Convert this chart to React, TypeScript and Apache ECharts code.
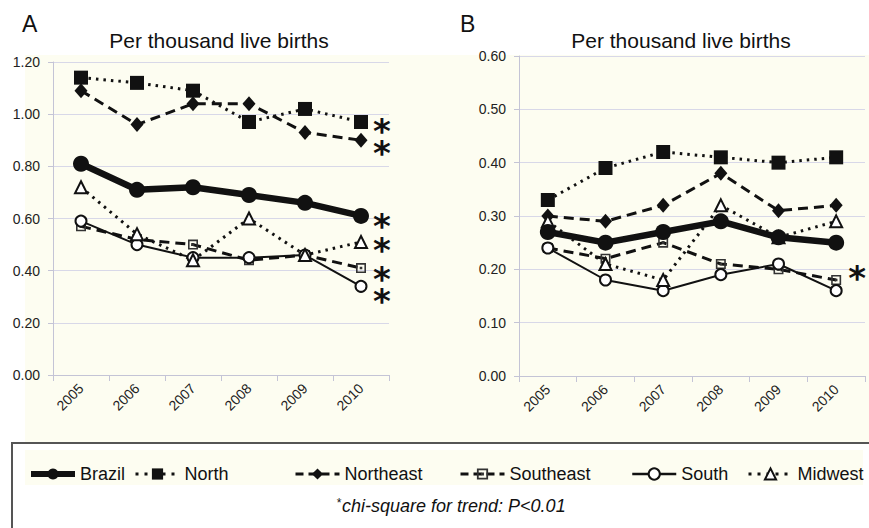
import React, { useEffect, useRef } from "react";
import * as echarts from "echarts";

const years = ["2005", "2006", "2007", "2008", "2009", "2010"];
const regions = ["Brazil", "North", "Northeast", "Southeast", "South", "Midwest"];

// Panel A values (per thousand live births)
const brazilA = [0.81, 0.71, 0.72, 0.69, 0.66, 0.61];
const northA = [1.14, 1.12, 1.09, 0.97, 1.02, 0.97];
const northeastA = [1.09, 0.96, 1.04, 1.04, 0.93, 0.9];
const southeastA = [0.57, 0.52, 0.5, 0.44, 0.46, 0.41];
const southA = [0.59, 0.5, 0.45, 0.45, 0.46, 0.34];
const midwestA = [0.72, 0.54, 0.44, 0.6, 0.46, 0.51];

// Panel B values (per thousand live births)
const brazilB = [0.27, 0.25, 0.27, 0.29, 0.26, 0.25];
const northB = [0.33, 0.39, 0.42, 0.41, 0.4, 0.41];
const northeastB = [0.3, 0.29, 0.32, 0.38, 0.31, 0.32];
const southeastB = [0.24, 0.22, 0.25, 0.21, 0.2, 0.18];
const southB = [0.24, 0.18, 0.16, 0.19, 0.21, 0.16];
const midwestB = [0.29, 0.21, 0.18, 0.32, 0.26, 0.29];

// significant trend (asterisk) per region, in `regions` order
const trendA = [true, true, true, true, true, true];
const trendB = [false, false, false, true, false, false];

const yMaxA = 1.2;
const yStepA = 0.2;
const yMaxB = 0.6;
const yStepB = 0.1;

const titleText = "Per thousand live births";
const footnote = "chi-square for trend: P<0.01";

const INK = "#111";
const FONT = "'Liberation Sans', Arial, Helvetica, sans-serif";

const seSymbol =
  "path://M0,0H10V10H0Z M1.6,1.6V8.4H8.4V1.6Z M3.7,3.7H6.3V6.3H3.7Z";

const styles: Record<string, any> = {
  Brazil: {
    symbol: "circle",
    symbolSize: 16,
    lineStyle: { width: 6.5, type: "solid", color: INK },
    legendLine: { width: 6, type: "solid", color: INK },
    itemStyle: { color: INK },
    z: 5,
    starDy: [2, 0],
  },
  North: {
    symbol: "rect",
    symbolSize: 14,
    lineStyle: { width: 3, type: [2.5, 5], color: INK },
    legendLine: { width: 3, type: [3, 6], color: INK },
    itemStyle: { color: INK },
    z: 3,
    starDy: [1, 0],
  },
  Northeast: {
    symbol: "diamond",
    symbolSize: [13, 15],
    lineStyle: { width: 3, type: [10, 6], color: INK },
    legendLine: { width: 3, type: [8, 5], color: INK },
    itemStyle: { color: INK },
    z: 3,
    starDy: [5, 0],
  },
  Southeast: {
    symbol: seSymbol,
    symbolSize: 10,
    lineStyle: { width: 3, type: [10, 6], color: INK },
    legendLine: { width: 3, type: [8, 5], color: INK },
    itemStyle: { color: "#333" },
    z: 3,
    starDy: [3, -10],
  },
  South: {
    symbol: "emptyCircle",
    symbolSize: 11,
    lineStyle: { width: 2, type: "solid", color: INK },
    legendLine: { width: 2.5, type: "solid", color: INK },
    itemStyle: { color: INK, borderWidth: 1.3 },
    z: 3,
    starDy: [7, 0],
  },
  Midwest: {
    symbol: "emptyTriangle",
    symbolSize: 12,
    lineStyle: { width: 3, type: [2.5, 5], color: INK },
    legendLine: { width: 3, type: [3, 6], color: INK },
    itemStyle: { color: INK, borderWidth: 1.3 },
    z: 3,
    starDy: [0, 0],
  },
};

const valuesA = [brazilA, northA, northeastA, southeastA, southA, midwestA];
const valuesB = [brazilB, northB, northeastB, southeastB, southB, midwestB];

function buildSeries(panel: number, values: number[][], trend: boolean[]) {
  return regions.map((name, i) => {
    const st = styles[name];
    const last = values[i].length - 1;
    const data = values[i].map((v, j) =>
      j === last && trend[i]
        ? {
            value: v,
            label: {
              show: true,
              formatter: "*",
              position: "inside",
              offset: [21, st.starDy[panel] + 8],
              fontFamily: "'DejaVu Sans', sans-serif",
              fontWeight: "bold",
              fontSize: 34,
              lineHeight: 16,
              color: INK,
            },
          }
        : v
    );
    return {
      type: "line",
      name,
      xAxisIndex: panel,
      yAxisIndex: panel,
      data,
      symbol: st.symbol,
      symbolSize: st.symbolSize,
      showAllSymbol: true,
      lineStyle: st.lineStyle,
      itemStyle: st.itemStyle,
      z: st.z,
      emphasis: { disabled: true },
    };
  });
}

function xAxis(grid: number) {
  return {
    type: "category",
    gridIndex: grid,
    data: years,
    boundaryGap: true,
    axisLine: { show: true, lineStyle: { color: "#c4c4d6", width: 1 } },
    axisTick: { show: true, length: 6, lineStyle: { color: "#c4c4d6" } },
    axisLabel: {
      rotate: 45,
      fontSize: 14,
      color: "#222",
      margin: 11,
      fontFamily: FONT,
    },
  };
}

function yAxis(grid: number, max: number, step: number) {
  return {
    type: "value",
    gridIndex: grid,
    min: 0,
    max,
    interval: step,
    axisLine: { show: true, lineStyle: { color: "#c4c4d6", width: 1 } },
    axisTick: { show: true, length: 5, lineStyle: { color: "#c4c4d6" } },
    splitLine: { show: true, lineStyle: { color: "#d8d8e8", width: 1 } },
    axisLabel: {
      fontSize: 14,
      color: "#222",
      margin: 13,
      fontFamily: FONT,
      formatter: (v: number) => v.toFixed(2),
    },
  };
}

const legendLefts = [28, 134, 294, 459, 631, 747];

export default function App() {
  const ref = useRef<HTMLDivElement>(null);
  useEffect(() => {
    if (!ref.current) return;
    const chart = echarts.init(ref.current, undefined, { renderer: "svg" });
    const option: any = {
      animation: false,
      backgroundColor: "#ffffff",
      textStyle: { fontFamily: FONT },
      title: [
        {
          text: "A",
          left: 22,
          top: 12,
          padding: 0,
          textStyle: { fontSize: 23, fontWeight: "normal", color: INK, fontFamily: FONT },
        },
        {
          text: titleText,
          left: 219,
          top: 30,
          padding: 0,
          textAlign: "center",
          textStyle: { fontSize: 21, fontWeight: "normal", color: INK, fontFamily: FONT },
        },
        {
          text: "B",
          left: 460,
          top: 12,
          padding: 0,
          textStyle: { fontSize: 23, fontWeight: "normal", color: INK, fontFamily: FONT },
        },
        {
          text: titleText,
          left: 681,
          top: 30,
          padding: 0,
          textAlign: "center",
          textStyle: { fontSize: 21, fontWeight: "normal", color: INK, fontFamily: FONT },
        },
        {
          text: "{s|*}{t|" + footnote + "}",
          left: 451,
          top: 497,
          padding: 0,
          textAlign: "center",
          textStyle: {
            fontWeight: "normal",
            rich: {
              s: {
                fontSize: 12,
                fontStyle: "italic",
                fontWeight: "normal",
                color: "#111",
                verticalAlign: "top",
                fontFamily: FONT,
                padding: [0, 1, 6, 0],
              },
              t: {
                fontSize: 18,
                fontStyle: "italic",
                fontWeight: "normal",
                color: "#111",
                fontFamily: FONT,
              },
            },
          },
        },
      ],
      graphic: [
        {
          type: "rect",
          z: -10,
          silent: true,
          shape: { x: 25, y: 55, width: 850, height: 388 },
          style: { fill: "#fdfdf1" },
        },
        {
          type: "rect",
          z: -10,
          silent: true,
          shape: { x: 25, y: 450, width: 838, height: 35 },
          style: { fill: "#fdfdf1" },
        },
        {
          type: "rect",
          z: 10,
          silent: true,
          shape: { x: 12, y: 443, width: 880, height: 100 },
          style: { fill: "none", stroke: "#555", lineWidth: 2 },
        },
      ],
      legend: regions.map((name, i) => ({
        data: [{ name, lineStyle: styles[name].legendLine }],
        left: legendLefts[i],
        top: 465,
        padding: 0,
        itemWidth: 44,
        itemHeight: 14,
        itemGap: 0,
        selectedMode: false,
        textStyle: { fontSize: 18, color: INK, fontFamily: FONT },
      })),
      grid: [
        { left: 53, top: 62, width: 336, height: 313, containLabel: false },
        { left: 519, top: 56, width: 346, height: 320, containLabel: false },
      ],
      xAxis: [xAxis(0), xAxis(1)],
      yAxis: [yAxis(0, yMaxA, yStepA), yAxis(1, yMaxB, yStepB)],
      series: [
        ...buildSeries(0, valuesA, trendA),
        ...buildSeries(1, valuesB, trendB),
      ],
    };
    chart.setOption(option);
    return () => chart.dispose();
  }, []);
  return (
    <div
      ref={ref}
      style={{ position: "fixed", left: 0, top: 0, width: 869, height: 528 }}
    />
  );
}
